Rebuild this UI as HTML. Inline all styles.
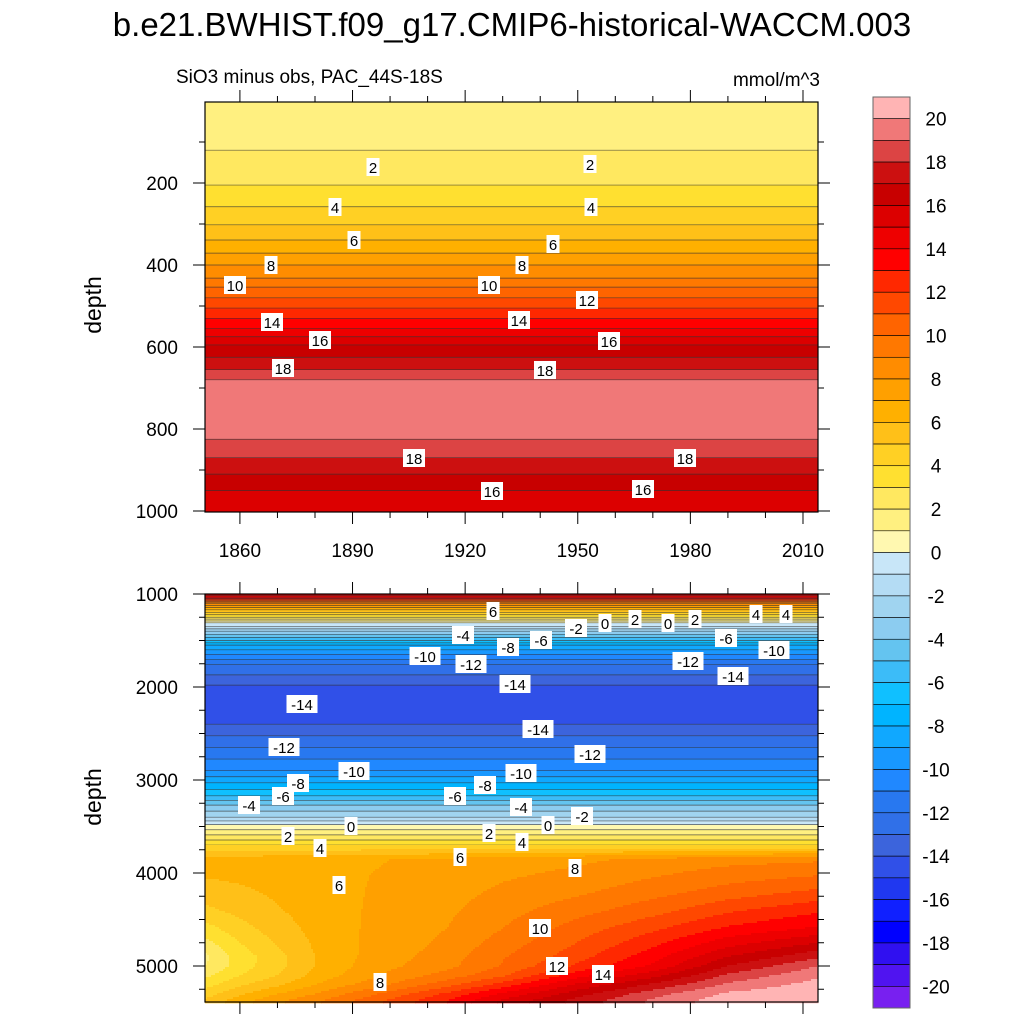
<!DOCTYPE html>
<html><head><meta charset="utf-8">
<style>
html,body{margin:0;padding:0;background:#fff;}
body{width:1024px;height:1024px;overflow:hidden;font-family:"Liberation Sans",sans-serif;}
svg text{font-family:"Liberation Sans",sans-serif;}
</style></head>
<body>
<svg id="chart" width="1024" height="1024" xmlns="http://www.w3.org/2000/svg">
<text x="512" y="36" font-size="33" text-anchor="middle">b.e21.BWHIST.f09_g17.CMIP6-historical-WACCM.003</text>
<text x="176" y="83" font-size="19">SiO3 minus obs, PAC_44S-18S</text>
<text x="820" y="86" font-size="19" text-anchor="end">mmol/m^3</text>
<g id="topPanel"></g>
<g id="botPanel"></g>
<g id="cbar"></g>
<g id="axes"></g>
<g id="labels"></g>
</svg>
<script>
// ---- data ----
const colors = ["#FFB4B4","#F07878","#DC4444","#CC1010","#C80000","#DC0000","#EE0000","#FF0000","#FF2800","#FF4800","#FF6400","#FF7800","#FF8C00","#FFA000","#FFB000","#FFC018","#FFD024","#FFE030","#FFE860","#FFF080","#FFF8B0","#C8E6F8","#B4DCF4","#A0D4F0","#8CCCF0","#64C4F0","#3CBCF8","#10C0FF","#00B4FF","#10A8FF","#1898FF","#2088FF","#2878F0","#3070E8","#3C64DC","#3050E8","#2038F0","#1020FF","#0000FF","#3010F0","#5014F0","#7820F0"];
const cbarLabels = [20,18,16,14,12,10,8,6,4,2,0,-2,-4,-6,-8,-10,-12,-14,-16,-18,-20];
const topDepths = [0,60,120,205,258,302,339,371,400,432,454,480,505,530,555,575,595,625,655,680,720,780,825,870,910,950,1000];
const topValues = [1.3,1.6,2,3,4,5,6,7,8,9,10,11,12,13,14,15,16,17,18,19,19.6,19.6,19,18,17,16,15.6];
const botDepths = [1000,1050,1100,1170,1250,1310,1350,1400,1450,1500,1550,1650,1760,1980,2200,2400,2650,2900,3030,3170,3270,3400,3480,3590,3700];
const botValues = [16,13,9,6,3,0,-1,-3,-4.5,-6,-8,-10,-12,-14,-14.9,-14,-12,-10,-8,-6,-4,-2,0,2,4];
const deepYears = [1851,1860,1870,1880,1890,1900,1915,1930,1950,1970,1990,2014];
const deepDepths = [3850,4000,4200,4400,4600,4800,4900,5000,5100,5200,5300,5375];
const deepValues = [ // rows = depth, cols = year
 [6.5,6.5,6.6,6.7,6.8,7.0,7.2,7.5,7.8,8.2,8.6,8.8],
 [6.2,6.3,6.5,6.7,6.9,7.1,7.4,7.8,8.2,8.8,9.4,9.8],
 [5.5,5.8,6.2,6.6,6.9,7.2,7.6,8.2,8.8,9.6,10.4,11.2],
 [4.8,5.3,5.9,6.5,6.9,7.3,7.8,8.6,9.6,10.6,11.8,12.8],
 [3.6,4.6,5.5,6.3,6.9,7.4,8.0,9.0,10.5,11.8,13.2,14.2],
 [2.4,3.8,5.0,6.1,6.9,7.5,8.3,9.6,11.2,13.0,15.0,16.6],
 [1.8,3.5,4.6,6.0,6.9,7.6,8.5,9.9,11.6,13.6,16.0,17.8],
 [2.0,3.5,4.7,6.0,7.0,7.8,8.7,10.1,12.2,14.2,17.0,19.0],
 [2.8,4.0,5.0,6.3,7.3,8.2,9.4,10.8,13.6,15.6,18.2,19.8],
 [3.6,4.8,5.8,7.0,8.0,9.0,10.6,12.4,15.2,17.2,19.2,20.4],
 [4.6,5.8,7.0,8.0,9.2,10.4,12.2,14.2,16.6,18.6,20.2,20.8],
 [5.2,6.6,7.8,8.8,10.0,11.2,13.0,15.2,17.4,19.2,20.6,21.0]];
const yearTicks = [1860,1890,1920,1950,1980,2010];
const topDepthTicks = [200,400,600,800,1000];
const botDepthTicks = [1000,2000,3000,4000,5000];

// ---- scales ----
const X0=205, X1=818, Y0=1850.7, Y1=2014;
const xs = yr => X0 + (yr-Y0)/(Y1-Y0)*(X1-X0);
const T0=102, TB=512; const ty = d => 101 + 0.41*d;
const B0=594, BB=1002; const by = d => 594 + 0.093*(d-1000);
const byInv = y => 1000 + (y-594)/0.093;
const tyInv = y => (y-101)/0.41;
const NS="http://www.w3.org/2000/svg";
function mk(tag, attrs, parent){const e=document.createElementNS(NS,tag);for(const k in attrs)e.setAttribute(k,attrs[k]);parent.appendChild(e);return e;}
function colorOf(v){let k=Math.floor(v);let idx=20-k;if(idx<0)idx=0;if(idx>41)idx=41;return colors[idx];}
function interp(xa,ya,x){if(x<=xa[0])return ya[0];for(let i=1;i<xa.length;i++){if(x<=xa[i]){const t=(x-xa[i-1])/(xa[i]-xa[i-1]);return ya[i-1]+t*(ya[i]-ya[i-1]);}}return ya[ya.length-1];}
function deepVal(yr,d){
  const col = deepDepths.map((dd,i)=>interp(deepYears,deepValues[i],yr));
  return interp(deepDepths,col,d);
}
function botVal(yr,d){
  if(d<=3700) return interp(botDepths,botValues,d);
  if(d<3850){const t=(d-3700)/150;return (1-t)*interp(botDepths,botValues,3700)+t*deepVal(yr,3850);}
  return deepVal(yr,d);
}
const tp=document.getElementById('topPanel'), bp=document.getElementById('botPanel');
for(let y=T0;y<TB;y++){
  const v=interp(topDepths,topValues,tyInv(y+0.5));
  const r=mk('rect',{x:X0,y:y,width:X1-X0,height:1.2,fill:colorOf(v)},tp);
  
  
}
for(let lev=-20;lev<=20;lev++){
  for(let i=1;i<topDepths.length;i++){
    const a=topValues[i-1],b=topValues[i];
    if((a<lev&&b>=lev)||(a>lev&&b<=lev)){
      const d=topDepths[i-1]+(lev-a)/(b-a)*(topDepths[i]-topDepths[i-1]);
      const yy=ty(d);
      const l=mk('line',{x1:X0,x2:X1,y1:yy,y2:yy,stroke:'#333',"stroke-width":0.7,"stroke-opacity":0.8},tp);
      
      
    }
  }
}
const yDeep = Math.floor(by(3700));
for(let y=B0;y<yDeep;y++){
  const v=interp(botDepths,botValues,byInv(y+0.5));
  const r=mk('rect',{x:X0,y:y,width:X1-X0,height:1.2,fill:colorOf(v)},bp);
  
  
}
for(let lev=-20;lev<=20;lev++){
  for(let i=1;i<botDepths.length;i++){
    const a=botValues[i-1],b=botValues[i];
    if((a<lev&&b>=lev)||(a>lev&&b<=lev)){
      const d=botDepths[i-1]+(lev-a)/(b-a)*(botDepths[i]-botDepths[i-1]);
      const yy=by(d);
      const l=mk('line',{x1:X0,x2:X1,y1:yy,y2:yy,stroke:'#333',"stroke-width":0.7,"stroke-opacity":0.8},bp);
      
      
    }
  }
}
// deep cells
for(let y=yDeep;y<BB;y+=2){
  let runStart=X0, runCol=null;
  const n=Math.ceil((X1-X0)/2);
  for(let i=0;i<=n;i++){
    const x=Math.min(X0+i*2,X1);
    let c=null;
    if(i<n){const yr=Y0+(x+1-X0)/(X1-X0)*(Y1-Y0);c=colorOf(botVal(yr,byInv(y+1)));}
    if(c!==runCol){
      if(runCol!==null){
        const r=mk('rect',{x:runStart,y:y,width:x-runStart+0.5,height:2.3,fill:runCol},bp);
        
        
      }
      runStart=x;runCol=c;
    }
  }
}
// colorbar
const cb=document.getElementById('cbar');
const CBT=97, CBB=1008, CBX=873, CBW=37, bh=(CBB-CBT)/42;
colors.forEach((c,i)=>{
  const r=mk('rect',{x:CBX,y:CBT+i*bh,width:CBW,height:bh,fill:c,stroke:'#000',"stroke-width":0.6},cb);
  
  
});
mk('rect',{x:CBX,y:CBT,width:CBW,height:CBB-CBT,fill:'none',stroke:'#666',"stroke-width":1},cb);
cbarLabels.forEach(v=>{
  const yy=CBT+(20-v+1)*bh;
  const t=mk('text',{x:936,y:yy+7,"font-size":19,"text-anchor":"middle"},cb);t.textContent=v;
  
  
});
// axes
const ax=document.getElementById('axes');
function frame(yt,yb){mk('rect',{x:X0,y:yt,width:X1-X0,height:yb-yt,fill:'none',stroke:'#000',"stroke-width":1.2},ax);}
frame(T0,TB);frame(B0,BB);
for(let yr=1860;yr<=2010;yr+=10){
  const x=xs(yr), maj=(yr-1860)%30===0, L=maj?12:6;
  mk('line',{x1:x,x2:x,y1:TB,y2:TB+L,stroke:'#000',"stroke-width":1},ax);
  mk('line',{x1:x,x2:x,y1:T0,y2:T0-L,stroke:'#000',"stroke-width":1},ax);
  mk('line',{x1:x,x2:x,y1:B0,y2:B0-L,stroke:'#000',"stroke-width":1},ax);
  mk('line',{x1:x,x2:x,y1:BB,y2:BB+L,stroke:'#000',"stroke-width":1},ax);
}
yearTicks.forEach(yr=>{const t=mk('text',{x:xs(yr),y:557,"font-size":19,"text-anchor":"middle"},ax);t.textContent=yr;
  
  });
for(let d=100;d<=1000;d+=100){const yy=ty(d),maj=d%200===0,L=maj?12:6;
  mk('line',{x1:X0,x2:X0-L,y1:yy,y2:yy,stroke:'#000'},ax);mk('line',{x1:X1,x2:X1+L,y1:yy,y2:yy,stroke:'#000'},ax);}
topDepthTicks.forEach(d=>{const t=mk('text',{x:178,y:ty(d)+7,"font-size":19,"text-anchor":"end"},ax);t.textContent=d;
  
  });
for(let d=1000;d<=5300;d+=250){const yy=by(d),maj=d%1000===0,L=maj?12:6;
  mk('line',{x1:X0,x2:X0-L,y1:yy,y2:yy,stroke:'#000'},ax);mk('line',{x1:X1,x2:X1+L,y1:yy,y2:yy,stroke:'#000'},ax);}
botDepthTicks.forEach(d=>{const t=mk('text',{x:178,y:by(d)+7,"font-size":19,"text-anchor":"end"},ax);t.textContent=d;
  
  });
[[305],[797]].forEach(([yy])=>{const t=mk('text',{x:0,y:0,"font-size":23,"text-anchor":"middle",transform:`translate(101,${yy}) rotate(-90)`},ax);t.textContent='depth';
  
  });
// contour labels [x,y,text]
const labelList=[[373,167,'2'],[590,164,'2'],[335,207,'4'],[591,207,'4'],[354,240,'6'],[553,244,'6'],[271,265,'8'],[522,265,'8'],[235,285,'10'],[489,285,'10'],[587,300,'12'],[272,322,'14'],[519,320,'14'],[320,340,'16'],[609,341,'16'],[283,368,'18'],[545,370,'18'],[414,458,'18'],[685,458,'18'],[492,491,'16'],[643,489,'16'],
[493,611,'6'],[463,635,'-4'],[508,647,'-8'],[541,640,'-6'],[576,628,'-2'],[605,623,'0'],[635,619,'2'],[668,623,'0'],[695,619,'2'],[756,614,'4'],[786,614,'4'],[726,638,'-6'],[774,650,'-10'],[425,656,'-10'],[471,664,'-12'],[688,661,'-12'],[515,684,'-14'],[733,676,'-14'],[302,704,'-14'],[538,729,'-14'],[284,747,'-12'],[590,754,'-12'],[521,773,'-10'],[354,771,'-10'],[298,783,'-8'],[485,785,'-8'],[283,796,'-6'],[455,796,'-6'],[521,807,'-4'],[249,805,'-4'],[548,825,'0'],[582,816,'-2'],[351,826,'0'],[288,836,'2'],[489,833,'2'],[320,848,'4'],[522,842,'4'],[460,857,'6'],[575,868,'8'],[339,885,'6'],[540,928,'10'],[557,966,'12'],[603,974,'14'],[380,982,'8']];
const lg=document.getElementById('labels');
labelList.forEach(([x,y,s])=>{
  const w=s.length*9+4;
  const r=mk('rect',{x:x-w/2,y:y-9,width:w,height:18,fill:'#fff'},lg);
  
  
  const t=mk('text',{x:x,y:y+6,"font-size":15,"text-anchor":"middle"},lg);t.textContent=s;
  
  
});
</script>
</body></html>
